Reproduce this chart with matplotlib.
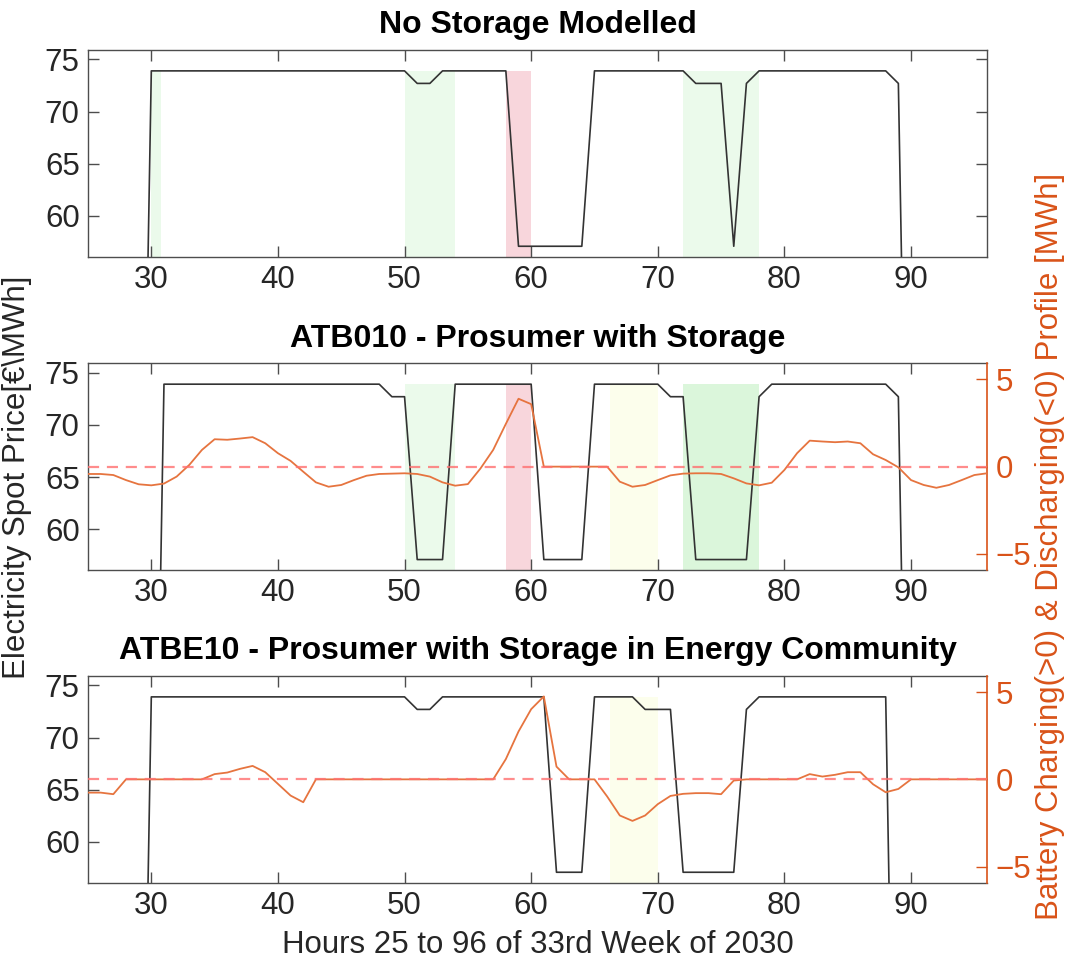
import numpy as np
import matplotlib
matplotlib.use("Agg")
import matplotlib.pyplot as plt

plt.rcParams['font.family'] = ['Liberation Sans', 'DejaVu Sans']

# Hours shown on the x axis
hours = list(range(25, 97))

# Electricity spot price per hour [EUR/MWh]
price_no_storage = (
    [5] * 5 + [73.9] * 21 + [72.7] * 2 + [73.9] * 6 + [57.1] * 6 + [73.9] * 8
    + [72.7] * 3 + [57.1] + [72.7] + [73.9] * 11 + [72.7] + [5] * 7
)
price_atb010 = (
    [5] * 6 + [73.9] * 18 + [72.7] * 2 + [57.1] * 3 + [73.9] * 7 + [57.1] * 4
    + [73.9] * 6 + [72.7] * 2 + [57.1] * 5 + [72.7] + [73.9] * 10 + [72.7] + [5] * 7
)
price_atbe10 = (
    [5] * 5 + [73.9] * 21 + [72.7] * 2 + [73.9] * 9 + [57.1] * 3 + [73.9] * 4
    + [72.7] * 3 + [57.1] * 5 + [72.7] + [73.9] * 11 + [5] * 8
)

# Battery charging (>0) / discharging (<0) profile [MWh], hours 25..96
battery_atb010 = [
    -0.42, -0.42, -0.48, -0.77, -1.01, -1.07, -0.97, -0.57, 0.10, 0.96,
    1.57, 1.54, 1.61, 1.69, 1.34, 0.77, 0.33, -0.29, -0.90, -1.15,
    -1.05, -0.77, -0.52, -0.42, -0.40, -0.38, -0.42, -0.57, -0.90, -1.09,
    -1.00, -0.10, 0.96, 2.45, 3.89, 3.58, 0.0, 0.0, 0.0, 0.0,
    0.0, 0.0, -0.86, -1.15, -1.05, -0.77, -0.50, -0.40, -0.38, -0.38,
    -0.42, -0.67, -0.96, -1.07, -0.92, -0.19, 0.77, 1.49, 1.44, 1.40,
    1.44, 1.34, 0.71, 0.38, -0.04, -0.77, -1.05, -1.21, -1.05, -0.77,
    -0.48, -0.38,
]
battery_atbe10 = [
    -0.76, -0.76, -0.85, 0.0, 0.0, 0.0, 0.0, 0.0, 0.0, 0.0,
    0.30, 0.39, 0.60, 0.77, 0.41, -0.26, -0.93, -1.31, 0.0, 0.0,
    0.0, 0.0, 0.0, 0.0, 0.0, 0.0, 0.0, 0.0, 0.0, 0.0,
    0.0, 0.0, 0.0, 1.16, 2.74, 4.02, 4.75, 0.73, 0.0, 0.0,
    0.0, -0.98, -2.07, -2.38, -2.07, -1.42, -0.95, -0.83, -0.79, -0.79,
    -0.85, -0.07, 0.0, 0.0, 0.0, 0.0, 0.0, 0.30, 0.16, 0.26,
    0.41, 0.41, -0.28, -0.74, -0.55, 0.0, 0.0, 0.0, 0.0, 0.0,
    0.0, 0.0,
]

titles = [
    "No Storage Modelled",
    "ATB010 - Prosumer with Storage",
    "ATBE10 - Prosumer with Storage in Energy Community",
]

# Highlighted hour ranges: (start, end, colour)
GREEN = "#ebfaeb"
GREEN_STRONG = "#dbf6db"
PINK = "#f8d6dc"
YELLOW = "#fcfeec"
spans_no_storage = [(30, 30.8, GREEN), (50, 54, GREEN), (58, 60, PINK), (72, 78, GREEN)]
spans_atb010 = [(50, 54, GREEN), (58, 60, PINK), (66.2, 70, YELLOW), (72, 78, GREEN_STRONG)]
spans_atbe10 = [(66.2, 70, YELLOW)]

x_ticks = [30, 40, 50, 60, 70, 80, 90]
y_ticks = [60, 65, 70, 75]
bat_ticks = [-5, 0, 5]

ORANGE = "#d95319"
AX_GREY = "#4d4d4d"
TXT = "#262626"
FS = 22.5

W, H = 1073, 969
fig = plt.figure(figsize=(W / 100, H / 100), dpi=100)

left, right = 88 / W, 987 / W
tops = [50, 363.3, 676]
ax_h = 206.7

panels = [
    (price_no_storage, None, spans_no_storage),
    (price_atb010, battery_atb010, spans_atb010),
    (price_atbe10, battery_atbe10, spans_atbe10),
]

for i, (price, battery, spans) in enumerate(panels):
    top = tops[i]
    ax = fig.add_axes([left, 1 - (top + ax_h) / H, right - left, ax_h / H])
    p = np.array(price)
    y_lo, y_hi = p[p > 50].min() - 1, p.max() + 2
    ax.set_xlim(25, 96)
    ax.set_ylim(y_lo, y_hi)

    for a, b, c in spans:
        ax.fill_between([a, b], y_lo, p.max(), color=c, lw=0, zorder=1)

    ax.plot(hours, price, color="#333333", lw=1.2, zorder=3)

    ax.set_xticks(x_ticks)
    ax.set_yticks(y_ticks)
    ax.tick_params(direction="in", length=8, width=1, color=AX_GREY,
                   labelsize=FS, labelcolor=TXT, top=True, pad=6)
    if battery is None:
        ax.tick_params(axis="y", right=True)
    for s in ax.spines.values():
        s.set_color(AX_GREY)
        s.set_linewidth(1)
    ax.set_title(titles[i], fontsize=FS + 0.5, fontweight="bold", color="black", pad=12)

    if battery is not None:
        ax2 = ax.twinx()
        ax2.set_ylim(-5.92, 5.92)
        ax2.plot(hours, battery, color="#e6743f", lw=1.3, zorder=3)
        ax2.axhline(0, color="#ff6f6f", lw=1.6, ls=(0, (5, 3.5)), alpha=0.8, zorder=4)
        ax2.set_yticks(bat_ticks)
        ax2.tick_params(direction="in", length=8, width=1, color=ORANGE,
                        labelsize=FS, labelcolor=ORANGE, pad=6)
        ax2.spines["right"].set_color(ORANGE)
        ax2.spines["right"].set_linewidth(1.2)
        for k in ("left", "top", "bottom"):
            ax2.spines[k].set_visible(False)
        ax.spines["right"].set_visible(False)

fig.text(17 / W, 1 - 477 / H, "Electricity Spot Price[€\\MWh]", rotation=90,
         ha="center", va="center", fontsize=FS, color=TXT)
fig.text(1050 / W, 1 - 546 / H, "Battery Charging(>0) & Discharging(<0) Profile [MWh]",
         rotation=90, ha="center", va="center", fontsize=FS, color=ORANGE)
fig.text(0.5 * (left + right), 1 - 945 / H, "Hours 25 to 96 of 33rd Week of 2030",
         ha="center", va="center", fontsize=FS, color=TXT)

fig.savefig("out.png", dpi=100, facecolor="white")
